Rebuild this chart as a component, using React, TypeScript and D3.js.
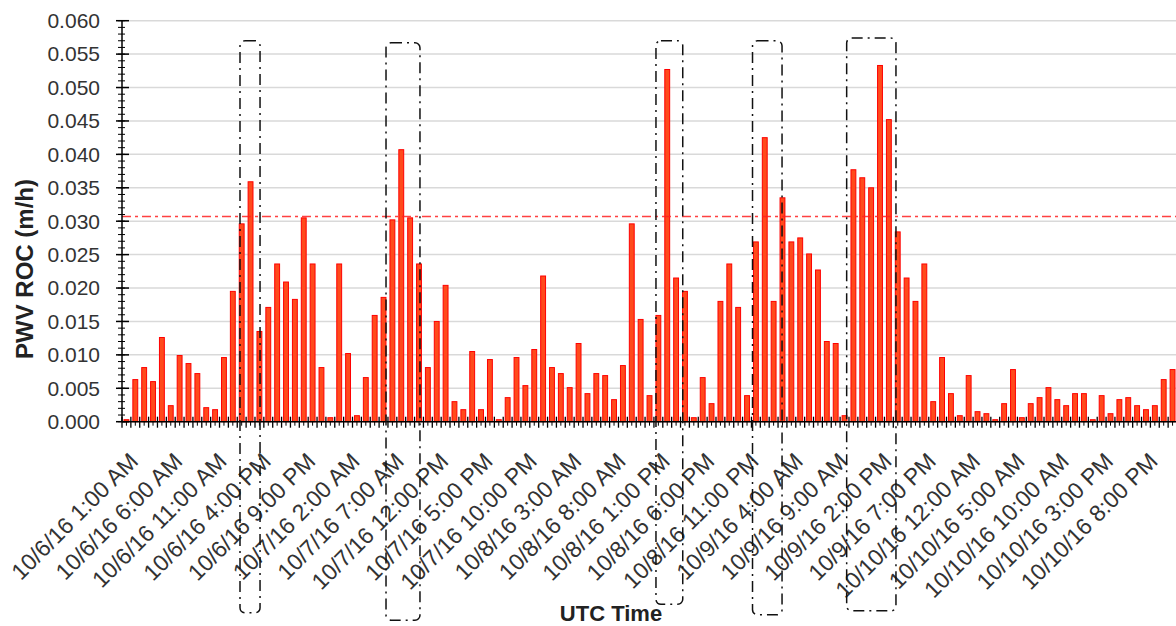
import React, { useLayoutEffect, useRef } from 'react';
import * as d3 from 'd3';

const WIDTH = 1176;
const HEIGHT = 626;

// hourly PWV rate of change, 10/6/16 1:00 AM onwards
const rocValues = [
  0.0003, 0.0063, 0.0081, 0.006, 0.0126, 0.0024, 0.0099, 0.0087, 0.0072, 0.0021,
  0.0018, 0.0096, 0.0195, 0.0296, 0.0359, 0.0135, 0.0171, 0.0236, 0.0209, 0.0183,
  0.0305, 0.0236, 0.0081, 0.0006, 0.0236, 0.0102, 0.0009, 0.0066, 0.0159, 0.0186,
  0.0302, 0.0407, 0.0305, 0.0236, 0.0081, 0.015, 0.0204, 0.003, 0.0018, 0.0105,
  0.0018, 0.0093, 0.0003, 0.0036, 0.0096, 0.0054, 0.0108, 0.0218, 0.0081, 0.0072,
  0.0051, 0.0117, 0.0042, 0.0072, 0.0069, 0.0033, 0.0084, 0.0296, 0.0153, 0.0039,
  0.0159, 0.0527, 0.0215, 0.0195, 0.0006, 0.0066, 0.0027, 0.018, 0.0236, 0.0171,
  0.0039, 0.0269, 0.0425, 0.018, 0.0335, 0.0269, 0.0275, 0.0251, 0.0227, 0.012,
  0.0117, 0.0009, 0.0377, 0.0365, 0.035, 0.0533, 0.0452, 0.0284, 0.0215, 0.018,
  0.0236, 0.003, 0.0096, 0.0042, 0.0009, 0.0069, 0.0015, 0.0012, 0.0003, 0.0027,
  0.0078, 0.0006, 0.0027, 0.0036, 0.0051, 0.0033, 0.0024, 0.0042, 0.0042, 0.0003,
  0.0039, 0.0012, 0.0033, 0.0036, 0.0024, 0.0018, 0.0024, 0.0063, 0.0078,
];

const tickLabels = [
  '10/6/16 1:00 AM', '10/6/16 6:00 AM', '10/6/16 11:00 AM', '10/6/16 4:00 PM',
  '10/6/16 9:00 PM', '10/7/16 2:00 AM', '10/7/16 7:00 AM', '10/7/16 12:00 PM',
  '10/7/16 5:00 PM', '10/7/16 10:00 PM', '10/8/16 3:00 AM', '10/8/16 8:00 AM',
  '10/8/16 1:00 PM', '10/8/16 6:00 PM', '10/8/16 11:00 PM', '10/9/16 4:00 AM',
  '10/9/16 9:00 AM', '10/9/16 2:00 PM', '10/9/16 7:00 PM', '10/10/16 12:00 AM',
  '10/10/16 5:00 AM', '10/10/16 10:00 AM', '10/10/16 3:00 PM', '10/10/16 8:00 PM',
];
const labelEvery = 5;

const threshold = 0.0307;

// highlighted event windows: category span (fractional) and value span
const boxFrom = [12.81, 29.28, 59.73, 70.62, 81.24];
const boxTo = [15.07, 33.11, 62.75, 73.95, 86.8];
const boxTop = [0.057, 0.0567, 0.057, 0.057, 0.0574];
const boxBottom = [-0.0286, -0.0297, -0.0273, -0.0289, -0.0283];

const M = { left: 122, right: 1177, top: 20.7, bottom: 421.7 };

export default function App() {
  const svgRef = useRef<SVGSVGElement>(null);

  useLayoutEffect(() => {
    if (!svgRef.current) return;
    svgRef.current.innerHTML = '';
    const svg = d3.select(svgRef.current);

    const idx = rocValues.map((_, i) => i);
    const x = d3.scaleBand<number>().domain(idx).range([M.left, M.right]).padding(0);
    const step = x.step();
    const cx = (p: number) => (x(0) as number) + step / 2 + p * step;
    const y = d3.scaleLinear().domain([0, 0.06]).range([M.bottom, M.top]);
    const font = '"Liberation Sans", Arial, sans-serif';

    // gridlines
    const majors = d3.range(0, 0.0601, 0.005);
    svg
      .append('g')
      .selectAll('line')
      .data(majors.filter((d) => d > 0))
      .join('line')
      .attr('x1', M.left)
      .attr('x2', WIDTH)
      .attr('y1', (d) => y(d))
      .attr('y2', (d) => y(d))
      .attr('stroke', '#d9d9d9')
      .attr('stroke-width', 1.5);

    // bars
    const bw = step * 0.55;
    svg
      .append('g')
      .selectAll('rect')
      .data(rocValues)
      .join('rect')
      .attr('x', (_, i) => cx(i) - bw / 2)
      .attr('width', bw)
      .attr('y', (d) => y(d))
      .attr('height', (d) => M.bottom - y(d))
      .attr('fill', '#ff4a1c')
      .attr('stroke', '#ff0000')
      .attr('stroke-width', 1);

    // threshold line
    svg
      .append('line')
      .attr('x1', M.left)
      .attr('x2', WIDTH)
      .attr('y1', y(threshold))
      .attr('y2', y(threshold))
      .attr('stroke', '#ff2020')
      .attr('stroke-opacity', 0.85)
      .attr('stroke-width', 1.6)
      .attr('stroke-dasharray', '9,4,3,4');

    // y axis
    const ya = svg.append('g');
    ya.append('line')
      .attr('x1', M.left)
      .attr('x2', M.left)
      .attr('y1', M.top)
      .attr('y2', M.bottom)
      .attr('stroke', '#000')
      .attr('stroke-width', 1.5);
    const minors = d3.range(0, 61).map((k) => k * 0.001);
    ya.selectAll('line.minor')
      .data(minors)
      .join('line')
      .attr('class', 'minor')
      .attr('x1', M.left - 4)
      .attr('x2', M.left + 3)
      .attr('y1', (d) => y(d))
      .attr('y2', (d) => y(d))
      .attr('stroke', '#000')
      .attr('stroke-width', 1);
    ya.selectAll('line.major')
      .data(majors)
      .join('line')
      .attr('class', 'major')
      .attr('x1', M.left - 6)
      .attr('x2', M.left + 7)
      .attr('y1', (d) => y(d))
      .attr('y2', (d) => y(d))
      .attr('stroke', '#000')
      .attr('stroke-width', 1.5);
    ya.selectAll('text')
      .data(majors)
      .join('text')
      .attr('x', 100)
      .attr('y', (d) => y(d))
      .attr('dy', '0.35em')
      .attr('text-anchor', 'end')
      .attr('font-family', font)
      .attr('font-size', 21)
      .attr('fill', '#333')
      .text((d) => d3.format('.3f')(d));

    // x axis
    const xa = svg.append('g');
    xa.append('line')
      .attr('x1', M.left)
      .attr('x2', WIDTH)
      .attr('y1', M.bottom)
      .attr('y2', M.bottom)
      .attr('stroke', '#000')
      .attr('stroke-width', 1.5);
    xa.selectAll('line.cross')
      .data(d3.range(0, rocValues.length + 1))
      .join('line')
      .attr('class', 'cross')
      .attr('x1', (i) => cx(i - 0.5))
      .attr('x2', (i) => cx(i - 0.5))
      .attr('y1', M.bottom - 5)
      .attr('y2', M.bottom + 6)
      .attr('stroke', '#000')
      .attr('stroke-width', 1.3);
    xa.selectAll('line.mid')
      .data(idx)
      .join('line')
      .attr('class', 'mid')
      .attr('x1', (i) => cx(i))
      .attr('x2', (i) => cx(i))
      .attr('y1', M.bottom)
      .attr('y2', M.bottom + 4)
      .attr('stroke', '#000')
      .attr('stroke-width', 1);
    xa.selectAll('text')
      .data(tickLabels)
      .join('text')
      .attr('text-anchor', 'end')
      .attr('font-family', font)
      .attr('font-size', 23)
      .attr('fill', '#333')
      .attr('transform', (_, k) => `translate(${cx(k * labelEvery) + 13},${M.bottom + 41}) rotate(-45)`)
      .text((d) => d);

    // event boxes
    svg
      .append('g')
      .selectAll('rect')
      .data(boxFrom)
      .join('rect')
      .attr('x', (d) => cx(d))
      .attr('width', (d, i) => cx(boxTo[i]) - cx(d))
      .attr('y', (_, i) => y(boxTop[i]))
      .attr('height', (_, i) => y(boxBottom[i]) - y(boxTop[i]))
      .attr('rx', 5)
      .attr('fill', 'none')
      .attr('stroke', '#111')
      .attr('stroke-width', 1.5)
      .attr('stroke-dasharray', '11,5,2,5');

    // axis titles
    svg
      .append('text')
      .attr('x', 611)
      .attr('y', 621)
      .attr('text-anchor', 'middle')
      .attr('font-family', font)
      .attr('font-weight', 'bold')
      .attr('font-size', 22)
      .attr('fill', '#222')
      .text('UTC Time');
    svg
      .append('text')
      .attr('transform', 'translate(33,269) rotate(-90)')
      .attr('text-anchor', 'middle')
      .attr('font-family', font)
      .attr('font-weight', 'bold')
      .attr('font-size', 24)
      .attr('fill', '#222')
      .text('PWV ROC (m/h)');
  }, []);

  return (
    <svg
      ref={svgRef}
      width={WIDTH}
      height={HEIGHT}
      style={{ position: 'absolute', left: 0, top: 0, background: '#fff' }}
    />
  );
}
